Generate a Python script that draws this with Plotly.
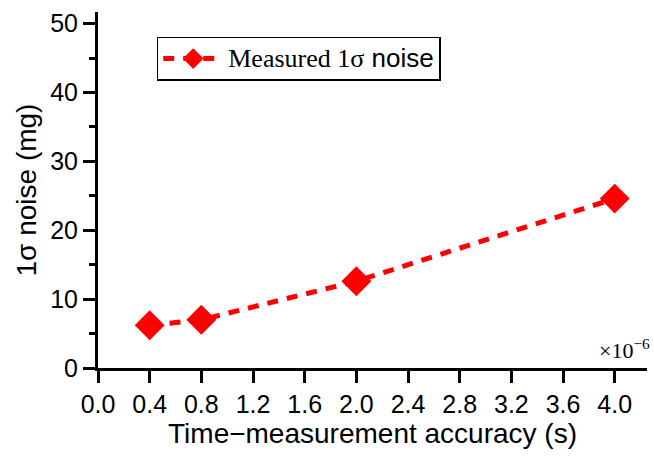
import plotly.graph_objects as go

x_vals = [0.4, 0.8, 2.0, 4.0]
y_vals = [6.2, 7.0, 12.6, 24.6]
x_ticks = [0.0, 0.4, 0.8, 1.2, 1.6, 2.0, 2.4, 2.8, 3.2, 3.6, 4.0]
y_ticks = [0, 10, 20, 30, 40, 50]

fig = go.Figure()
fig.add_trace(go.Scatter(
    x=x_vals, y=y_vals, mode="lines+markers",
    name=('<span style="font-family:\'Liberation Serif\';font-size:26px">Measured 1σ</span>'
          '<span style="font-size:26px"> noise</span>'),
    line=dict(color="#ff0000", width=5, dash="11px,9px"),
    marker=dict(symbol="diamond", size=23, color="#ff0000"),
))

axis_common = dict(
    showline=True, linecolor="black", linewidth=3,
    ticks="outside", tickwidth=3, tickcolor="black", ticklen=12,
    showgrid=False, zeroline=False, mirror=False,
    tickfont=dict(family="Liberation Sans, Arial", size=25, color="black"),
    title_font=dict(family="Liberation Sans, Arial", size=28, color="black"),
)
fig.update_xaxes(range=[0, 4.25], tickvals=x_ticks,
                 ticktext=[f"{v:.1f}" for v in x_ticks],
                 title_text="Time\u2212measurement accuracy (s)", title_standoff=6,
                 **axis_common)
fig.update_yaxes(range=[0, 51.7], tickvals=y_ticks,
                 title_text="1σ noise (mg)", title_standoff=6,
                 minor=dict(tickvals=[5, 15, 25, 35, 45], ticklen=6, tickwidth=3,
                            tickcolor="black", ticks="outside"),
                 **axis_common)

fig.add_annotation(xref="paper", yref="paper", x=1.0095, y=0.0, xanchor="right", yanchor="bottom",
                   yshift=3, showarrow=False,
                   text="×10<sup>\u22126</sup>",
                   font=dict(family="Liberation Serif, Times New Roman", size=22, color="black"))

fig.update_layout(
    width=654, height=457,
    margin=dict(l=98, r=7, t=12, b=89),
    plot_bgcolor="white", paper_bgcolor="white",
    showlegend=True,
    legend=dict(x=0.107, y=0.93, xanchor="left", yanchor="top",
                bordercolor="black", borderwidth=1.5, bgcolor="white",
                font=dict(family="Liberation Sans, Arial", size=21, color="black"),
                itemwidth=60),
)
fig.write_html("out.html")
